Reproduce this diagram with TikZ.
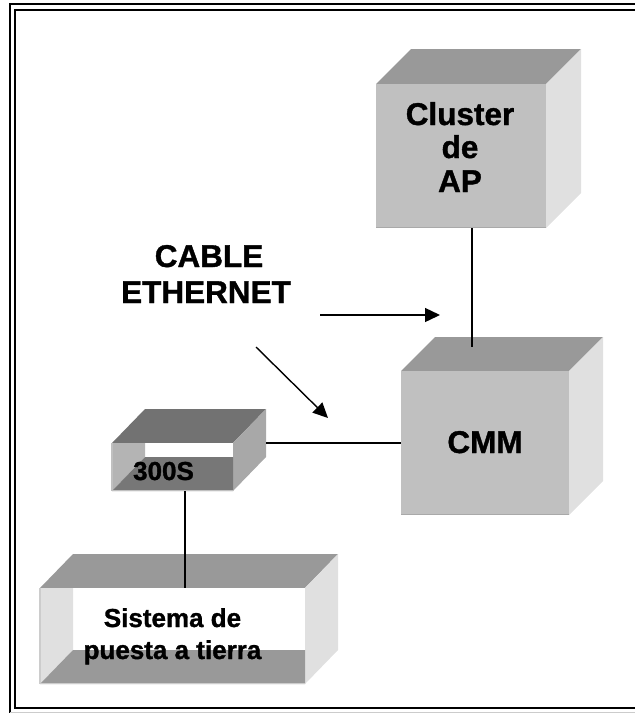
\documentclass[tikz,border=0pt]{standalone}
\usepackage{fontspec}
\setmainfont{Liberation Sans}[BoldFeatures={FakeBold=1.2}]
\usetikzlibrary{arrows.meta}

% solid blocks
\definecolor{blocktop}{HTML}{999999}
\definecolor{blockfront}{HTML}{C0C0C0}
\definecolor{blockside}{HTML}{E0E0E0}
\definecolor{blockedge}{HTML}{A9A9A9}
% open block: grounding system
\definecolor{groundtop}{HTML}{999999}
\definecolor{groundside}{HTML}{E0E0E0}
\definecolor{groundwall}{HTML}{E0E0E0}
\definecolor{groundfloor}{HTML}{999999}
\definecolor{groundedge}{HTML}{CCCCCC}
% open block: 300S unit
\definecolor{unittop}{HTML}{727272}
\definecolor{unitside}{HTML}{A8A8A8}
\definecolor{unitwall}{HTML}{B4B4B4}
\definecolor{unitfloor}{HTML}{777777}
\definecolor{unitedge}{HTML}{C0C0C0}

\tikzset{
  lbl/.style={font=\bfseries, inner sep=0pt, anchor=base},
  biglbl/.style={lbl, font=\bfseries\fontsize{31.5}{36}\selectfont},
  smalllbl/.style={lbl, font=\bfseries\fontsize{26}{30}\selectfont},
  wire/.style={black, line width=1.4pt},
  pointer/.style={black, line width=1.4pt, -{Triangle[length=15pt,width=14pt]}},
  frameline/.style={black, line width=2.2pt},
}

% front face (#1,#2)-(#3,#4), depth offset #5 right and #6 up
\newcommand\solidblock[6]{%
  \fill[blocktop] (#1,#2) -- ({#1+#5},{#2-#6}) -- ({#3+#5},{#2-#6}) -- (#3,#2) -- cycle;
  \fill[blockside] (#3,#2) -- ({#3+#5},{#2-#6}) -- ({#3+#5},{#4-#6}) -- (#3,#4) -- cycle;
  \fill[blockfront] (#1,#2) rectangle (#3,#4);
  \draw[blockedge, line width=1.5pt] (#1,{#4-0.75}) -- (#3,{#4-0.75});
}

% open-fronted box; #7 picks the colour set
\newcommand\openblock[7]{%
  \fill[#7top] (#1,#2) -- ({#1+#5},{#2-#6}) -- ({#3+#5},{#2-#6}) -- (#3,#2) -- cycle;
  \fill[#7side] (#3,#2) -- ({#3+#5},{#2-#6}) -- ({#3+#5},{#4-#6}) -- (#3,#4) -- cycle;
  \fill[white] ({#1+#5},#2) rectangle (#3,{#4-#6});
  \fill[#7wall] (#1,#2) -- ({#1+#5},#2) -- ({#1+#5},{#4-#6}) -- (#1,#4) -- cycle;
  \fill[#7floor] (#1,#4) -- ({#1+#5},{#4-#6}) -- (#3,{#4-#6}) -- (#3,#4) -- cycle;
  \draw[#7edge, line width=1.5pt] (#1,#4) -- (#1,#2) (#1,{#4-0.75}) -- (#3,{#4-0.75});
}

\begin{document}
\begin{tikzpicture}[x=1pt, y=-1pt]
\useasboundingbox (0,0) rectangle (635,713);

% double frame
\draw[frameline] (10,713) -- (10,4) -- (635,4);
\draw[frameline] (635,10) -- (15,10) -- (15,708) -- (635,708);
\draw[gray!40, line width=0.8pt] (10,712) -- (635,712);

% blocks
\solidblock{376}{84}{546}{228}{35}{35}
\solidblock{401}{371}{569}{515}{34}{34}
\openblock{112}{443}{233}{491}{33}{34}{unit}
\openblock{40}{588}{305}{684}{33}{34}{ground}

% connection points
\coordinate (clusterBottom) at (472,228);
\coordinate (cmmTop) at (472,347);
\coordinate (cmmLeft) at (401,443);
\coordinate (unitRight) at (266,443);
\coordinate (unitBottom) at (185,491);
\coordinate (groundTop) at (185,588);

% cables
\draw[wire] (clusterBottom) -- (cmmTop);
\draw[wire] (unitRight) -- (cmmLeft);
\draw[wire] (unitBottom) -- (groundTop);

% labels
\node[biglbl] (cl1) at (460,125) {Cluster};
\node[biglbl] (cl2) at (460,158) {de};
\node[biglbl] (cl3) at (460,192) {AP};
\node[biglbl] (cmm) at (485,453) {CMM};
\node[smalllbl] (unit) at (163.5,480) {300S};
\node[smalllbl] (gnd1) at (172.5,627) {Sistema de};
\node[smalllbl] (gnd2) at (172.5,659) {puesta a tierra};
\node[biglbl] (cab1) at (209,267) {CABLE};
\node[biglbl] (cab2) at (206,303) {ETHERNET};

% pointers for the cable label
\coordinate (ptrA0) at (320,315);
\coordinate (ptrA1) at (440,315);
\coordinate (ptrB0) at (256,347);
\coordinate (ptrB1) at (328,418);
\draw[pointer] (ptrA0) -- (ptrA1);
\draw[pointer] (ptrB0) -- (ptrB1);
\end{tikzpicture}
\end{document}
